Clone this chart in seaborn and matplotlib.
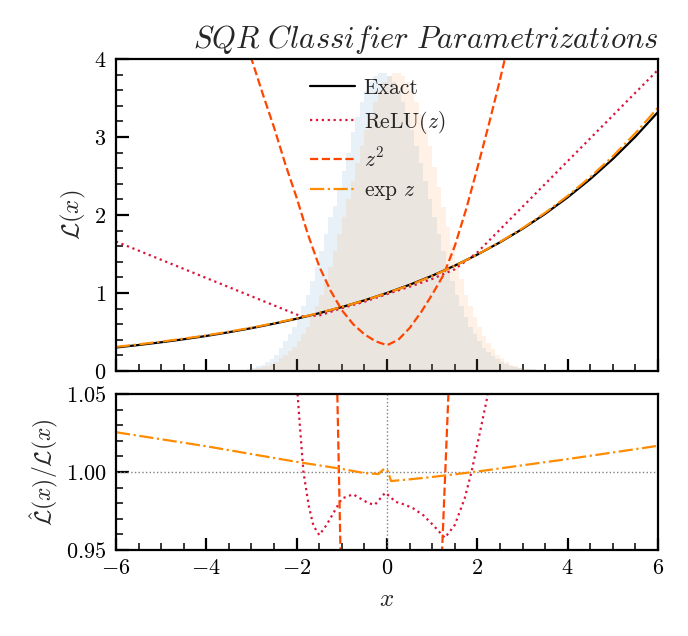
import numpy as np
import pandas as pd
import matplotlib
matplotlib.use("Agg")
import matplotlib.pyplot as plt
import seaborn as sns
from matplotlib.ticker import MultipleLocator

# histogramas de fundo (bins de largura 0.1 entre -3.3 e 3.3)
hist_centers = np.round(np.arange(-3.25, 3.26, 0.1), 2)
blue_heights = [0.00, 0.01, 0.02, 0.04, 0.06, 0.08, 0.11, 0.15, 0.20, 0.30, 0.38, 0.47,
                0.57, 0.69, 0.83, 0.98, 1.15, 1.33, 1.54, 1.75, 1.97, 2.12, 2.33, 2.56,
                2.80, 3.06, 3.26, 3.45, 3.59, 3.70, 3.78, 3.82, 3.82,
                3.78, 3.70, 3.59, 3.45, 3.28, 3.09, 2.88, 2.66, 2.43, 2.20, 1.97, 1.75,
                1.54, 1.33, 1.15, 0.98, 0.83, 0.69, 0.57, 0.47, 0.38, 0.30, 0.24, 0.19,
                0.15, 0.11, 0.09, 0.07, 0.05, 0.04, 0.03, 0.02, 0.02]
orange_heights = [0.01, 0.01, 0.02, 0.03, 0.04, 0.05, 0.07, 0.09, 0.12, 0.16, 0.20, 0.25,
                  0.31, 0.38, 0.48, 0.57, 0.69, 0.83, 0.98, 1.15, 1.33, 1.54, 1.75, 1.97,
                  2.20, 2.43, 2.66, 2.88, 3.09, 3.28, 3.45, 3.59, 3.70,
                  3.78, 3.82, 3.82, 3.78, 3.70, 3.59, 3.45, 3.28, 3.09, 2.88, 2.62, 2.36,
                  2.10, 1.84, 1.62, 1.40, 1.18, 0.98, 0.83, 0.69, 0.57, 0.45, 0.36, 0.28,
                  0.21, 0.16, 0.12, 0.08, 0.06, 0.04, 0.03, 0.02, 0.01]

# curvas do painel de cima
x_grid = [-6, -5.5, -5, -4.5, -4, -3.5, -3, -2.5, -2, -1.5, -1, -0.5, 0,
          0.5, 1, 1.5, 2, 2.5, 3, 3.5, 4, 4.5, 5, 5.5, 6]
exact_vals = [0.301, 0.333, 0.368, 0.407, 0.449, 0.497, 0.549, 0.607, 0.670, 0.741, 0.819, 0.905, 1.0,
              1.105, 1.221, 1.350, 1.492, 1.649, 1.822, 2.014, 2.226, 2.460, 2.718, 3.004, 3.320]
expz_vals = [0.309, 0.341, 0.376, 0.415, 0.456, 0.504, 0.555, 0.612, 0.674, 0.744, 0.821, 0.904, 1.0,
             1.100, 1.217, 1.348, 1.493, 1.653, 1.830, 2.027, 2.245, 2.486, 2.753, 3.049, 3.376]
relu_x = [-6, -1.9, -1.5, -1, -0.5, 0, 0.5, 1, 1.5, 2.0, 6]
relu_vals = [1.66, 0.70, 0.711, 0.805, 0.887, 0.986, 1.080, 1.180, 1.304, 1.52, 3.86]
sq_x = [-3.25, -3.0, -2.75, -2.5, -2.25, -2.0, -1.75, -1.5, -1.25, -1.0, -0.75, -0.5, -0.25, 0,
        0.25, 0.5, 0.75, 1.0, 1.25, 1.5, 1.75, 2.0, 2.25, 2.5, 2.75]
sq_vals = [4.47, 4.0, 3.55, 3.12, 2.65, 2.22, 1.75, 1.34, 1.03, 0.78, 0.60, 0.47, 0.38, 0.33,
           0.40, 0.55, 0.75, 0.98, 1.23, 1.60, 2.07, 2.60, 3.15, 3.73, 4.35]

# razões do painel de baixo
expz_ratio_x = [-6, -5, -4, -3, -2, -1, -0.5, -0.19, -0.06, 0.02, 0.09, 0.5, 1, 2, 3, 4, 5, 6]
expz_ratio = [1.0255, 1.021, 1.0165, 1.0115, 1.0065, 1.002, 0.9993, 0.9987, 1.0022, 1.0005,
              0.9942, 0.9953, 0.9968, 1.0003, 1.0043, 1.0083, 1.0125, 1.0168]
relu_ratio_x = [-2.05, -1.98, -1.93, -1.85, -1.73, -1.63, -1.5, -1.34, -1.19, -1.0, -0.75, -0.41,
                -0.27, -0.04, 0.07, 0.18, 0.4, 0.58, 0.8, 1.02, 1.28, 1.5, 1.72, 1.87, 2.06, 2.22, 2.3]
relu_ratio = [1.08, 1.05, 1.03, 1.0, 0.978, 0.9656, 0.9596, 0.966, 0.9735, 0.983, 0.9857, 0.980,
              0.979, 0.9867, 0.9842, 0.981, 0.979, 0.9767, 0.9724, 0.966, 0.9578, 0.966, 0.9831,
              1.0, 1.0258, 1.048, 1.065]
sq_ratio_x = [-1.121, -1.009, 0, 1.178, 1.402]
sq_ratio = [1.08, 0.92, 0.33, 0.92, 1.08]

sns.set_theme(style="ticks")
plt.rcParams.update({
    "font.family": "serif",
    "font.serif": ["cmr10", "DejaVu Serif"],
    "mathtext.fontset": "cm",
    "axes.formatter.use_mathtext": True,
    "axes.linewidth": 1.6,
    "axes.edgecolor": "black",
    "xtick.direction": "in",
    "ytick.direction": "in",
    "xtick.major.size": 9,
    "ytick.major.size": 9,
    "xtick.minor.size": 5,
    "ytick.minor.size": 5,
    "xtick.major.width": 1.6,
    "ytick.major.width": 1.6,
    "xtick.minor.width": 1.1,
    "ytick.minor.width": 1.1,
    "xtick.major.pad": 6,
    "ytick.major.pad": 7,
    "xtick.labelsize": 16,
    "ytick.labelsize": 16,
    "xtick.color": "black",
    "ytick.color": "black",
})

fig = plt.figure(figsize=(6.88, 6.36), dpi=100)
ax1 = fig.add_axes([0.1686, 0.4167, 0.7878, 0.4906])
ax2 = fig.add_axes([0.1686, 0.1352, 0.7878, 0.2453])

hist_df = pd.DataFrame({"x": hist_centers, "blue": blue_heights, "orange": orange_heights})
sns.histplot(data=hist_df, x="x", weights="blue", binwidth=0.1, binrange=(-3.3, 3.3),
             color="tab:blue", alpha=0.1, linewidth=0, ax=ax1)
sns.histplot(data=hist_df, x="x", weights="orange", binwidth=0.1, binrange=(-3.3, 3.3),
             color="tab:orange", alpha=0.1, linewidth=0, ax=ax1)

sns.lineplot(x=x_grid, y=exact_vals, color="black", lw=1.6, label="Exact", ax=ax1)
sns.lineplot(x=relu_x, y=relu_vals, color="crimson", lw=1.6, linestyle=":", label=r"ReLU$(z)$", ax=ax1)
sns.lineplot(x=sq_x, y=sq_vals, color="orangered", lw=1.6, linestyle="--", label=r"$z^2$", ax=ax1)
sns.lineplot(x=x_grid, y=expz_vals, color="darkorange", lw=1.6, linestyle="-.", label=r"$\exp\,z$", ax=ax1)

ax1.set_xlim(-6, 6)
ax1.set_ylim(0, 4)
ax1.set_ylabel(r"$\mathcal{L}(x)$", fontsize=18)
ax1.set_xlabel("")
ax1.xaxis.set_major_locator(MultipleLocator(2))
ax1.xaxis.set_minor_locator(MultipleLocator(0.5))
ax1.yaxis.set_major_locator(MultipleLocator(1))
ax1.yaxis.set_minor_locator(MultipleLocator(0.2))
ax1.tick_params(labelbottom=False)
ax1.set_title(r"$SQR\ Classifier\ Parametrizations$", loc="right", fontsize=22, pad=8)
ax1.legend(loc="upper left", bbox_to_anchor=(0.322, 1.0), frameon=False, fontsize=15.5,
           handlelength=2.1, handletextpad=0.4, labelspacing=0.5)

ax2.axhline(1.0, color="gray", ls=":", lw=1)
ax2.axvline(0.0, color="gray", ls=":", lw=1)
sns.lineplot(x=relu_ratio_x, y=relu_ratio, color="crimson", lw=1.6, linestyle=":", ax=ax2)
sns.lineplot(x=sq_ratio_x, y=sq_ratio, color="orangered", lw=1.6, linestyle="--", ax=ax2)
sns.lineplot(x=expz_ratio_x, y=expz_ratio, color="darkorange", lw=1.6, linestyle="-.", ax=ax2)

ax2.set_xlim(-6, 6)
ax2.set_ylim(0.95, 1.05)
ax2.set_yticks([0.95, 1.00, 1.05])
ax2.yaxis.set_minor_locator(MultipleLocator(0.01))
ax2.xaxis.set_major_locator(MultipleLocator(2))
ax2.xaxis.set_minor_locator(MultipleLocator(0.5))
ax2.set_xlabel(r"$x$", fontsize=18, labelpad=8)
ax2.set_ylabel(r"$\hat{\mathcal{L}}(x)/\mathcal{L}(x)$", fontsize=17)

fig.savefig("out.png", dpi=100)
